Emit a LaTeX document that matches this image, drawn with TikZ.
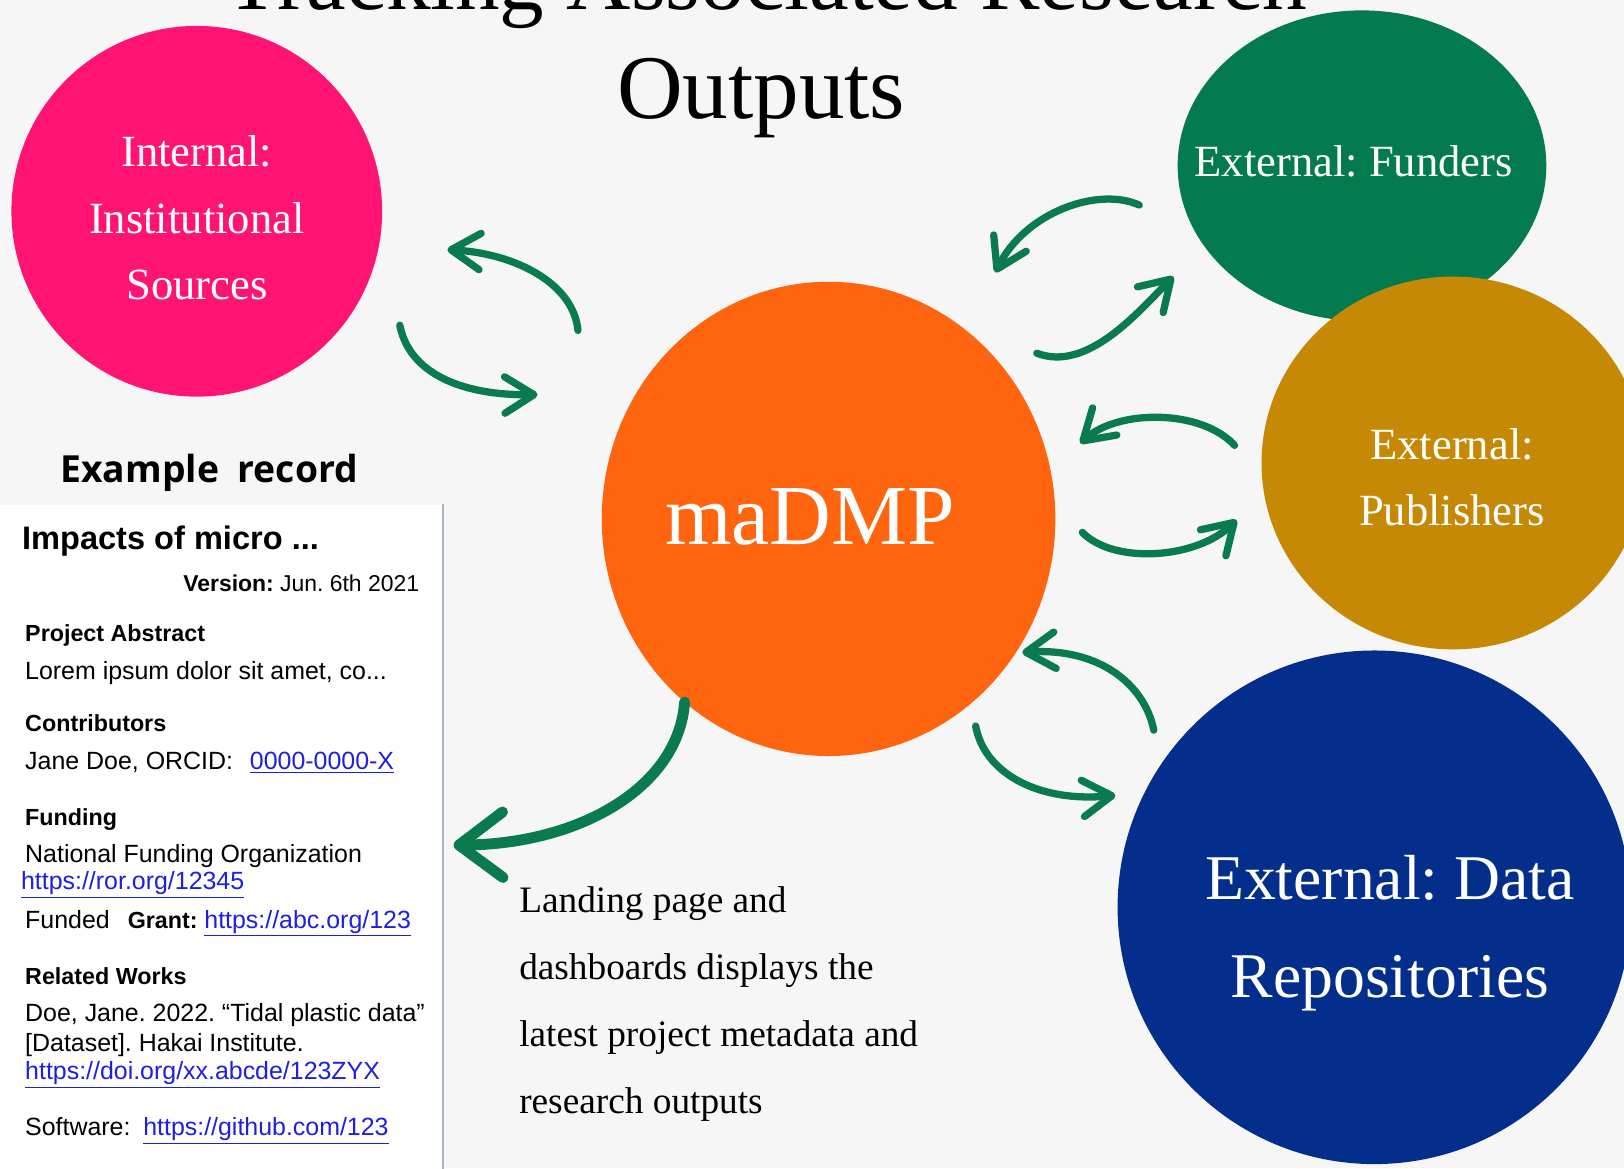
\documentclass[tikz,border=0pt]{standalone}
\usepackage{fontspec}
\setmainfont{Liberation Serif}
\setsansfont{Liberation Sans}
\newfontfamily\headfont{Open Sans}
\usetikzlibrary{arrows.meta,shapes.geometric}
\definecolor{paper}{HTML}{F6F6F6}
\definecolor{pinkc}{HTML}{FF1473}
\definecolor{fundc}{HTML}{037B4F}
\definecolor{pubc}{HTML}{C68906}
\definecolor{dmpc}{HTML}{FF640E}
\definecolor{repoc}{HTML}{032E8C}
\definecolor{flowc}{HTML}{097B4E}
\definecolor{linkc}{HTML}{1F1FE0}
\definecolor{edgec}{HTML}{A9B5C8}
\newcommand{\lnk}[1]{\textcolor{linkc}{\underline{#1}}}
\frenchspacing
\begin{document}
\begin{tikzpicture}[x=0.02cm,y=-0.02cm,
  blob/.style={ellipse,inner sep=0pt,outer sep=0pt},
  intext/.style={text=white,font=\fontsize{24.5}{30}\selectfont,anchor=base,inner sep=0pt},
  bigtext/.style={text=white,font=\fontsize{35}{42}\selectfont,anchor=base,inner sep=0pt},
  land/.style={font=\fontsize{20.5}{24}\selectfont,anchor=base west,inner sep=0pt},
  rec/.style={font=\sffamily\fontsize{13.7}{16}\selectfont,anchor=base west,inner sep=0pt},
  rechead/.style={font=\sffamily\bfseries\fontsize{12.8}{15}\selectfont,anchor=base west,inner sep=0pt},
  flow/.style={draw=flowc,line width=4pt,line cap=round,-{Straight Barb[length=16pt,width=20pt,round]}}]
\useasboundingbox (0,0) rectangle (1568,1128);
\clip (0,0) rectangle (1568,1128);
\fill[paper] (0,0) rectangle (1568,1128);
%
\node[font=\fontsize{49}{60}\selectfont,anchor=base] (title1) at (740,9) {Tracking Associated Research};
\node[font=\fontsize{50}{60}\selectfont,anchor=base] (title2) at (735,114) {Outputs};
%
\node[blob,fill=pinkc,minimum width=7.16cm,minimum height=7.16cm] (internal) at (190,204) {};
\node[blob,fill=fundc,minimum width=7.12cm,minimum height=6cm] (funders) at (1315,160) {};
\node[blob,fill=pubc,minimum width=7.4cm,minimum height=7.2cm] (publishers) at (1403,447) {};
\node[blob,fill=dmpc,minimum width=8.76cm,minimum height=9.16cm] (madmp) at (800,501) {};
\node[blob,fill=repoc,minimum width=9.92cm,minimum height=9.92cm] (repos) at (1327,876) {};
%
\node[intext] (inttxt1) at (190,161) {Internal:};
\node[intext] (inttxt2) at (190,225) {Institutional};
\node[intext] (inttxt3) at (190,289) {Sources};
\node[intext] (fundtxt) at (1307,170) {External: Funders};
\node[intext] (pubtxt1) at (1402,444) {External:};
\node[intext] (pubtxt2) at (1402,507) {Publishers};
\node[text=white,font=\fontsize{47}{56}\selectfont,anchor=base,inner sep=0pt] (dmptxt) at (782,526) {maDMP};
\node[bigtext] (repotxt1) at (1342,868) {External: Data};
\node[bigtext] (repotxt2) at (1342,963) {Repositories};
%
\node[land] (land1) at (501,881) {Landing page and};
\node[land] (land2) at (501,945.5) {dashboards displays the};
\node[land] (land3) at (501,1010) {latest project metadata and};
\node[land] (land4) at (501,1075) {research outputs};
%
\node[font=\headfont\bfseries\fontsize{20.5}{24}\selectfont,anchor=base west,inner sep=0pt] (exhead) at (58,466) {Example\hspace{0.5em}record};
\node[fill=white,inner sep=0pt,minimum width=8.54cm,minimum height=13.2cm,anchor=north west] (record) at (0,487) {};
\draw[edgec,line width=1.2pt] (record.north east) -- (record.south east);
%
\node[font=\sffamily\bfseries\fontsize{17.9}{20}\selectfont,anchor=base west,inner sep=0pt] (rtitle) at (21,531) {Impacts of micro ...};
\node[font=\sffamily\fontsize{12.6}{15}\selectfont,anchor=base east,inner sep=0pt] (rversion) at (405,571) {\textbf{Version:} Jun. 6th 2021};
\node[rechead] (rabs) at (24,619.5) {Project Abstract};
\node[rec] (rlorem) at (24,656.5) {Lorem ipsum dolor sit amet, co...};
\node[rechead] (rcontrib) at (24,706) {Contributors};
\node[rec] (rjane) at (24,743) {Jane Doe, ORCID:};
\node[rec] (rorcid) at (241,743) {\lnk{0000-0000-X}};
\node[rechead] (rfunding) at (24,797.5) {Funding};
\node[rec] (rnational) at (24,833) {National Funding Organization};
\node[rec] (rror) at (20,859) {\lnk{https://ror.org/12345}};
\node[rec] (rfunded) at (24,896) {Funded};
\node[rechead] (rgrant) at (123,896) {Grant:};
\node[rec] (rabc) at (197,896) {\lnk{https://abc.org/123}};
\node[rechead] (rrelated) at (24,951) {Related Works};
\node[rec] (rdoe) at (24,986) {Doe, Jane. 2022. “Tidal plastic data”};
\node[rec] (rdataset) at (24,1015) {[Dataset]. Hakai Institute.};
\node[rec] (rdoi) at (24,1042) {\lnk{https://doi.org/xx.abcde/123ZYX}};
\node[rec] (rsoft) at (24,1096) {Software:};
\node[rec] (rgit) at (138,1096) {\lnk{https://github.com/123}};
%
\coordinate (i1s) at (558,319); \coordinate (i1e) at (432,241);
\coordinate (i2s) at (386,314); \coordinate (i2e) at (519,381);
\coordinate (f1s) at (1100,198); \coordinate (f1e) at (961,263);
\coordinate (f2s) at (1001,341); \coordinate (f2e) at (1133,267);
\coordinate (p1s) at (1192,430); \coordinate (p1e) at (1043,428);
\coordinate (p2s) at (1045,514); \coordinate (p2e) at (1194,502);
\coordinate (d1s) at (1114,705); \coordinate (d1e) at (987,630);
\coordinate (d2s) at (942,701); \coordinate (d2e) at (1077,768);
\coordinate (rs) at (661,678); \coordinate (re) at (438,816);
%
\draw[flow] (i1s) .. controls +(-4,-44) and +(68,4) .. (i1e);
\draw[flow] (i2s) .. controls +(9,46) and +(-74,1) .. (i2e);
\draw[flow] (f1s) .. controls +(-40,-18) and +(29,-58) .. (f1e);
\draw[flow] (f2s) .. controls +(49,19) and +(-33,33) .. (f2e);
\draw[flow] (p1s) .. controls +(-32,-35) and +(37,-33) .. (p1e);
\draw[flow] (p2s) .. controls +(30,31) and +(-39,38) .. (p2e);
\draw[flow] (d1s) .. controls +(-9,-45) and +(73,-5) .. (d1e);
\draw[flow] (d2s) .. controls +(8,44) and +(-77,7) .. (d2e);
\draw[flow,line width=6pt,-{Straight Barb[length=24pt,width=36pt,round]}] (rs) .. controls +(-6,82) and +(122,-1) .. (re);
\end{tikzpicture}
\end{document}
